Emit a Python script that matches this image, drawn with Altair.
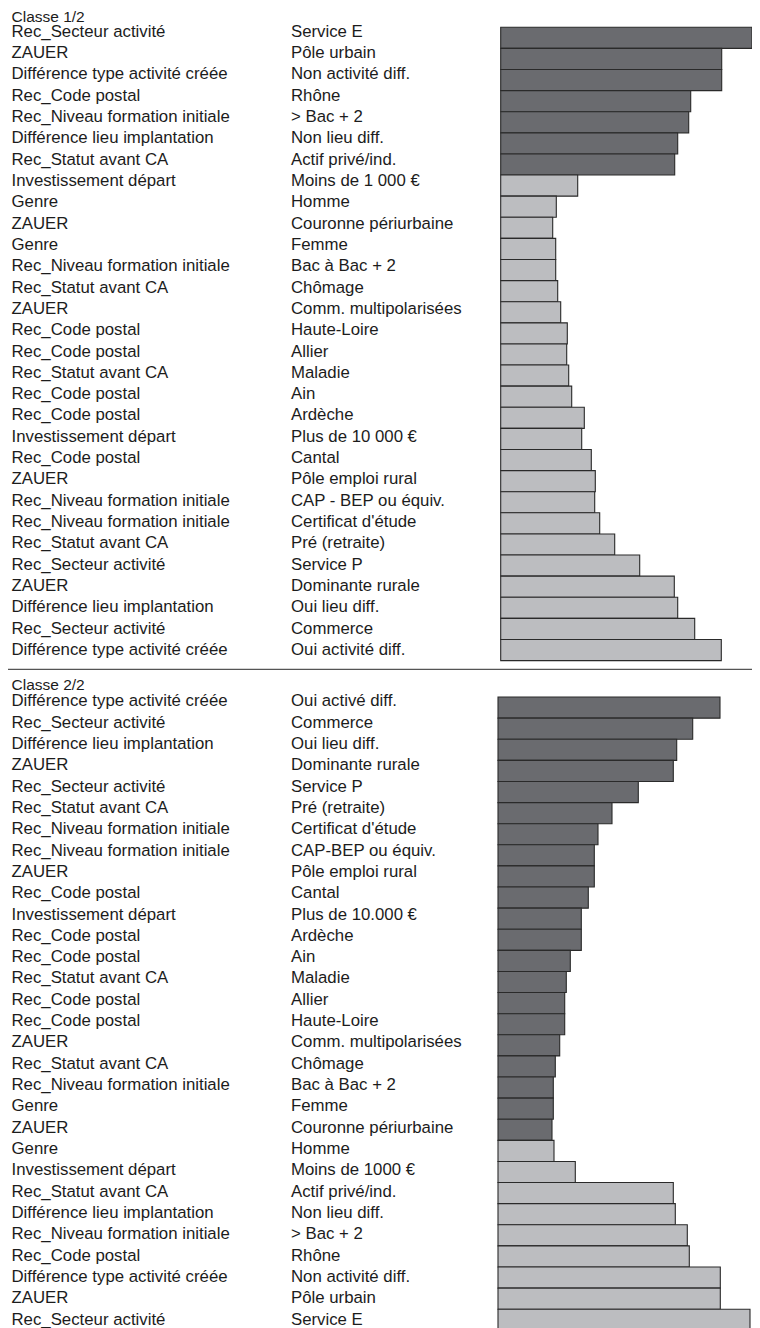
import altair as alt
import pandas as pd

class_titles = ["Classe 1/2", "Classe 2/2"]

p1_variables = [
    "Rec_Secteur activité", "ZAUER", "Différence type activité créée", "Rec_Code postal",
    "Rec_Niveau formation initiale", "Différence lieu implantation", "Rec_Statut avant CA",
    "Investissement départ", "Genre", "ZAUER", "Genre", "Rec_Niveau formation initiale",
    "Rec_Statut avant CA", "ZAUER", "Rec_Code postal", "Rec_Code postal", "Rec_Statut avant CA",
    "Rec_Code postal", "Rec_Code postal", "Investissement départ", "Rec_Code postal", "ZAUER",
    "Rec_Niveau formation initiale", "Rec_Niveau formation initiale", "Rec_Statut avant CA",
    "Rec_Secteur activité", "ZAUER", "Différence lieu implantation", "Rec_Secteur activité",
    "Différence type activité créée",
]
p1_modalities = [
    "Service E", "Pôle urbain", "Non activité diff.", "Rhône", "> Bac + 2", "Non lieu diff.",
    "Actif privé/ind.", "Moins de 1 000 €", "Homme", "Couronne périurbaine", "Femme",
    "Bac à Bac + 2", "Chômage", "Comm. multipolarisées", "Haute-Loire", "Allier", "Maladie",
    "Ain", "Ardèche", "Plus de 10 000 €", "Cantal", "Pôle emploi rural", "CAP - BEP ou équiv.",
    "Certificat d'étude", "Pré (retraite)", "Service P", "Dominante rurale", "Oui lieu diff.",
    "Commerce", "Oui activité diff.",
]
p1_values = [251.3, 221, 221, 190, 188, 177, 174, 77, 55.6, 52, 55, 55, 57, 60, 66.6, 66, 68,
             71, 83.6, 81, 90.6, 94.6, 94, 99, 114, 139, 173.6, 177, 194, 220.6]
p1_n_dark = 7

p2_variables = [
    "Différence type activité créée", "Rec_Secteur activité", "Différence lieu implantation",
    "ZAUER", "Rec_Secteur activité", "Rec_Statut avant CA", "Rec_Niveau formation initiale",
    "Rec_Niveau formation initiale", "ZAUER", "Rec_Code postal", "Investissement départ",
    "Rec_Code postal", "Rec_Code postal", "Rec_Statut avant CA", "Rec_Code postal",
    "Rec_Code postal", "ZAUER", "Rec_Statut avant CA", "Rec_Niveau formation initiale", "Genre",
    "ZAUER", "Genre", "Investissement départ", "Rec_Statut avant CA",
    "Différence lieu implantation", "Rec_Niveau formation initiale", "Rec_Code postal",
    "Différence type activité créée", "ZAUER", "Rec_Secteur activité",
]
p2_modalities = [
    "Oui activé diff.", "Commerce", "Oui lieu diff.", "Dominante rurale", "Service P",
    "Pré (retraite)", "Certificat d'étude", "CAP-BEP ou équiv.", "Pôle emploi rural", "Cantal",
    "Plus de 10.000 €", "Ardèche", "Ain", "Maladie", "Allier", "Haute-Loire",
    "Comm. multipolarisées", "Chômage", "Bac à Bac + 2", "Femme", "Couronne périurbaine",
    "Homme", "Moins de 1000 €", "Actif privé/ind.", "Non lieu diff.", "> Bac + 2", "Rhône",
    "Non activité diff.", "Pôle urbain", "Service E",
]
p2_values = [222, 194.7, 178.7, 175.3, 140.3, 114, 100, 96.3, 96.3, 90.3, 83.3, 83.3, 72.3,
             68.3, 66.7, 66.7, 61.7, 57.3, 55.3, 55.3, 54, 56, 77.3, 175.3, 177.3, 189.3,
             191.3, 222.3, 222.3, 252]
p2_n_dark = 21

records = []
for panel, (vs, ms, vals, ndark) in enumerate(
    [(p1_variables, p1_modalities, p1_values, p1_n_dark),
     (p2_variables, p2_modalities, p2_values, p2_n_dark)], start=1):
    for i, (v, m, x) in enumerate(zip(vs, ms, vals), start=1):
        records.append({"panel": panel, "rank": i, "variable": v, "modalite": m,
                        "valeur": x, "groupe": "sur" if i <= ndark else "sous"})
df = pd.DataFrame(records)
titles_df = pd.DataFrame({"panel": [1, 2], "titre": class_titles})

W, H = 744, 1320
ROW = 21.11
ys = alt.Scale(domain=[0, H / ROW], reverse=True, nice=False, zero=False)
xs = alt.Scale(domain=[0, 254], range=[490, 744], nice=False, zero=False)

FONT = "Liberation Sans"
FS = 16.8
FS_TITLE = 15.5
TXT = "#1c1c1c"

base = alt.Chart(df).transform_calculate(
    top="(datum.panel == 1 ? 0.914 : 32.64) + datum.rank - 1",
    bot="(datum.panel == 1 ? 0.914 : 32.64) + datum.rank",
    ty="(datum.panel == 1 ? 1.36 : 33.08) + (datum.rank - 1) * 1.01",
    x0="datum.panel == 1 ? 2.7 : 0",
    x1="(datum.panel == 1 ? 2.7 : 0) + datum.valeur",
)

bars = base.mark_rect(stroke="#2a2a2a", strokeWidth=1.1, clip=True).encode(
    x=alt.X("x0:Q", scale=xs, axis=None),
    x2="x1:Q",
    y=alt.Y("top:Q", scale=ys, axis=None),
    y2="bot:Q",
    color=alt.Color("groupe:N", scale=alt.Scale(domain=["sur", "sous"],
                                                range=["#6a6b6f", "#bcbdc0"]), legend=None),
)

var_text = base.mark_text(align="left", baseline="alphabetic", font=FONT, fontSize=FS,
                          color=TXT).encode(
    x=alt.value(3.5),
    y=alt.Y("ty:Q", scale=ys, axis=None),
    text="variable:N",
)
mod_text = base.mark_text(align="left", baseline="alphabetic", font=FONT, fontSize=FS,
                          color=TXT).encode(
    x=alt.value(283),
    y=alt.Y("ty:Q", scale=ys, axis=None),
    text="modalite:N",
)

titles = alt.Chart(titles_df).transform_calculate(
    ty="datum.panel == 1 ? 0.66 : 32.31"
).mark_text(align="left", baseline="alphabetic", font=FONT, fontSize=FS_TITLE,
            color=TXT).encode(
    x=alt.value(3.5),
    y=alt.Y("ty:Q", scale=ys, axis=None),
    text="titre:N",
)

sep = alt.Chart(titles_df).transform_filter("datum.panel == 2").transform_calculate(
    sy="31.33"
).mark_rule(color="#555555", strokeWidth=1.2).encode(
    x=alt.value(0),
    x2=alt.value(W),
    y=alt.Y("sy:Q", scale=ys, axis=None),
)

chart = alt.layer(bars, var_text, mod_text, titles, sep).properties(
    width=W, height=H, padding=0, autosize=alt.AutoSizeParams(type="none")
).configure_view(stroke=None)

chart.save("out.html", embed_options={"renderer": "svg", "actions": False})
